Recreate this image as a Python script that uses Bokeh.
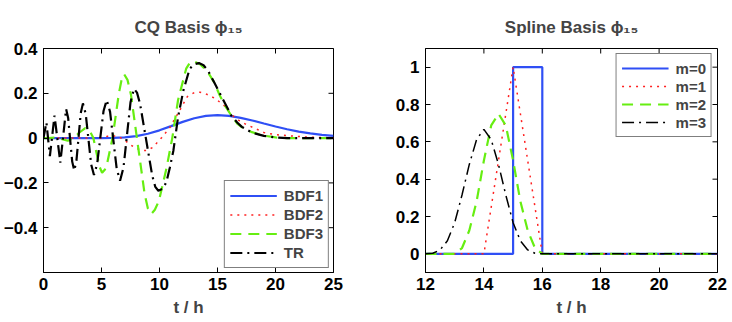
import math
from bokeh.plotting import figure
from bokeh.models import Range1d, FixedTicker, Legend, LegendItem
from bokeh.layouts import row
from bokeh.embed import file_html
from bokeh.resources import INLINE

FONT = "Liberation Sans"

# ---------------- Left panel: CQ basis phi_15 ----------------
cq_title = "CQ Basis ϕ₁₅"
cq_xticks = [0, 5, 10, 15, 20, 25]
cq_xlabels = ["0", "5", "10", "15", "20", "25"]
cq_yticks = [-0.4, -0.2, 0, 0.2, 0.4]
cq_ylabels = ["−0.4", "−0.2", "0", "0.2", "0.4"]
cq_names = ["BDF1", "BDF2", "BDF3", "TR"]

bdf1_t = [0, 1, 2, 3, 4, 5, 6, 7, 8, 9, 10, 11, 12, 13, 14, 15, 16, 17, 18, 19, 20, 21, 22, 23, 24, 25]
bdf1_y = [0, 0, 0, 0, 0, 0.0002, 0.0009, 0.0033, 0.009, 0.0194, 0.0347, 0.0534, 0.0724, 0.0885,
          0.099, 0.1024, 0.0992, 0.0906, 0.0786, 0.065, 0.0516, 0.0394, 0.0292, 0.0209, 0.0146, 0.0099]

bdf2_t = [0, 5, 5.5, 6.3, 6.9, 7.5, 7.9, 8.5, 8.9, 9.4, 9.8, 10.2, 10.9, 11.7, 12.4, 13.0, 13.5,
          13.9, 14.8, 15.7, 16.2, 16.8, 17.5, 18.2, 19, 20, 21.3, 22.5, 24.5, 25]
bdf2_y = [0, 0, 0.008, 0.01, -0.005, -0.03, -0.044, -0.055, -0.055, -0.042, -0.02, 0.003, 0.048,
          0.12, 0.185, 0.203, 0.205, 0.2, 0.177, 0.14, 0.105, 0.08, 0.06, 0.044, 0.025, 0.015,
          0.01, 0.005, 0.002, 0.002]

bdf3_t = [0, 0.4, 1.0, 1.6, 2.1, 2.6, 3.1, 3.6, 4.0, 4.3, 4.6, 4.85, 5.05, 5.3, 5.5, 5.95, 6.5,
          6.75, 6.95, 7.24, 7.54, 8.125, 8.71, 9.0, 9.3, 9.6, 9.95, 10.6, 11.1, 11.6, 12.3, 12.6,
          12.9, 13.5, 14.1, 14.7, 15.2, 15.7, 16.2, 16.7, 17.2, 17.9, 18.9, 20, 21, 25]
bdf3_y = [0, 0, 0.003, -0.005, -0.012, 0.0, 0.025, 0.045, 0.03, 0.0, -0.073, -0.13, -0.155, -0.14,
          -0.11, 0.0, 0.2, 0.265, 0.285, 0.26, 0.194, -0.027, -0.247, -0.314, -0.338, -0.32,
          -0.28, -0.135, 0.0, 0.17, 0.31, 0.335, 0.344, 0.33, 0.30, 0.25, 0.19, 0.14, 0.10,
          0.065, 0.045, 0.028, 0.012, 0.003, 0.0, 0.0]

tr_t = [0, 0.25, 0.55, 0.95, 1.2, 1.45, 1.7, 1.95, 2.125, 2.3, 2.475, 2.65, 2.84, 3.025, 3.21,
        3.4, 3.64, 3.875, 4.11, 4.35, 4.625, 4.9, 5.175, 5.45, 5.74, 6.025, 6.31, 6.6, 6.9, 7.2,
        7.5, 7.8, 8.06, 8.325, 8.85, 9.375, 9.64, 9.9, 10.3, 10.6, 10.9, 11.2, 11.6, 12.06, 12.6,
        13.0, 13.4, 13.8, 14.2, 14.7, 15.2, 15.7, 16.2, 16.7, 17.1, 18, 19, 20, 21, 25]
tr_y = [0, 0.07, -0.08, 0.10, -0.005, -0.11, 0.01, 0.13, 0.09, -0.008, -0.105, -0.145, -0.101,
        0.005, 0.111, 0.155, 0.108, -0.005, -0.118, -0.165, -0.116, 0.003, 0.121, 0.17, 0.117,
        -0.01, -0.137, -0.19, -0.13, 0.015, 0.16, 0.22, 0.203, 0.153, -0.008, -0.168, -0.218,
        -0.235, -0.225, -0.195, -0.13, -0.055, 0.094, 0.213, 0.31, 0.33, 0.335, 0.325, 0.30,
        0.25, 0.20, 0.15, 0.10, 0.07, 0.05, 0.024, 0.01, 0.003, 0.0, 0.0]

# ---------------- Right panel: spline basis phi_15 ----------------
sp_title = "Spline Basis ϕ₁₅"
sp_xticks = [12, 14, 16, 18, 20, 22]
sp_xlabels = ["12", "14", "16", "18", "20", "22"]
sp_yticks = [0, 0.2, 0.4, 0.6, 0.8, 1]
sp_ylabels = ["0", "0.2", "0.4", "0.6", "0.8", "1"]
sp_names = ["m=0", "m=1", "m=2", "m=3"]

m0_t = [12, 15, 15, 16, 16, 22]
m0_y = [0, 0, 1, 1, 0, 0]
m1_t = [12, 14, 15, 16, 22]
m1_y = [0, 0, 1, 0, 0]
m2_t = [12, 13, 13.25, 13.5, 13.75, 14, 14.25, 14.5, 14.75, 15, 15.25, 15.5, 15.75, 16, 22]
m2_y = [0, 0, 0.031, 0.125, 0.281, 0.5, 0.688, 0.75, 0.688, 0.5, 0.281, 0.125, 0.031, 0, 0]
m3_t = [12, 12.25, 12.5, 12.75, 13, 13.25, 13.5, 13.75, 14, 14.25, 14.5, 14.75, 15, 15.25,
        15.5, 15.75, 16, 22]
m3_y = [0, 0.003, 0.021, 0.070, 0.167, 0.315, 0.479, 0.612, 0.667, 0.612, 0.479, 0.315, 0.167,
        0.070, 0.021, 0.003, 0, 0]

BLUE = "#2f4ff5"
RED = "#ff2020"
GREEN = "#66ee11"
BLACK = "#000000"
TICK_FS = "17px"


def style_axis(ax, ticks, labels):
    ax.ticker = FixedTicker(ticks=ticks)
    ax.major_label_overrides = {t: l for t, l in zip(ticks, labels)}
    ax.major_tick_in = 5
    ax.major_tick_out = 0
    ax.minor_tick_line_color = None
    ax.axis_line_color = "black"
    ax.axis_line_width = 1
    ax.major_tick_line_color = "black"
    ax.major_label_text_font = FONT
    ax.major_label_text_font_style = "bold"
    ax.major_label_text_color = "black"
    ax.major_label_text_font_size = TICK_FS


def make_panel(title, xr, yr, xticks, xlabels, yticks, ylabels, width, bl, br):
    p = figure(width=width, height=322, x_range=Range1d(*xr), y_range=Range1d(*yr),
               output_backend="svg", toolbar_location=None,
               min_border_left=bl, min_border_right=br, min_border_top=48, min_border_bottom=50)
    p.title.text = title
    p.title.text_font = FONT
    p.title.text_font_size = "17px"
    p.title.text_font_style = "bold"
    p.title.align = "center"
    p.title.standoff = 24
    p.grid.visible = False
    p.outline_line_color = "black"
    p.outline_line_alpha = 1.0
    p.background_fill_color = "white"
    p.border_fill_color = "white"
    style_axis(p.xaxis[0], xticks, xlabels)
    style_axis(p.yaxis[0], yticks, ylabels)
    p.xaxis[0].major_label_standoff = 5
    p.yaxis[0].major_label_standoff = 6
    p.xaxis[0].axis_label = "t / h"
    p.xaxis[0].axis_label_text_font = FONT
    p.xaxis[0].axis_label_text_font_size = "17px"
    p.xaxis[0].axis_label_text_font_style = "bold"
    p.xaxis[0].axis_label_standoff = 5
    # inward tick marks on the top and right edges of the box (clipped to the frame)
    p.scatter(xticks, [yr[1]] * len(xticks), marker="dash", angle=math.pi / 2, size=10,
              line_color="black", line_width=1)
    p.scatter([xr[1]] * len(yticks), yticks, marker="dash", size=10,
              line_color="black", line_width=1)
    return p


def style_legend(lg, location, pad, h):
    lg.location = location
    lg.margin = 5
    lg.padding = pad
    lg.spacing = 0
    lg.glyph_width = 47
    lg.glyph_height = h
    lg.label_height = h
    lg.label_standoff = 7
    lg.label_text_font = FONT
    lg.label_text_font_size = "15px"
    lg.label_text_font_style = "bold"
    lg.border_line_color = "black"
    lg.border_line_width = 1
    lg.background_fill_color = "white"
    lg.background_fill_alpha = 1.0


p1 = make_panel(cq_title, (0, 25), (-0.6, 0.4), cq_xticks, cq_xlabels, cq_yticks, cq_ylabels,
                370, 41, 37)
r1 = p1.line(bdf1_t, bdf1_y, line_color=BLUE, line_width=2.2)
r2 = p1.line(bdf2_t, bdf2_y, line_color=RED, line_width=1.5, line_dash="2 5")
r3 = p1.line(bdf3_t, bdf3_y, line_color=GREEN, line_width=2.2, line_dash="11 7")
r4 = p1.line(tr_t, tr_y, line_color=BLACK, line_width=2.2, line_dash="12 5 2 5")
lg1 = Legend(items=[LegendItem(label=n, renderers=[r]) for n, r in zip(cq_names, [r1, r2, r3, r4])])
style_legend(lg1, "bottom_right", 5, 19)
lg1.margin = 4
p1.add_layout(lg1)

p2 = make_panel(sp_title, (12, 22), (-0.1, 1.1), sp_xticks, sp_xlabels, sp_yticks, sp_ylabels,
                362, 55, 15)
s1 = p2.line(m0_t, m0_y, line_color=BLUE, line_width=2.2)
s2 = p2.line(m1_t, m1_y, line_color=RED, line_width=1.5, line_dash="2 5")
s3 = p2.line(m2_t, m2_y, line_color=GREEN, line_width=2.2, line_dash="11 7")
s4 = p2.line(m3_t, m3_y, line_color=BLACK, line_width=1.5, line_dash="12 5 2 5")
lg2 = Legend(items=[LegendItem(label=n, renderers=[r]) for n, r in zip(sp_names, [s1, s2, s3, s4])])
style_legend(lg2, "top_right", 5, 18)
p2.add_layout(lg2)

layout = row(p1, p2)
open("out.html", "w").write(file_html(layout, INLINE))
